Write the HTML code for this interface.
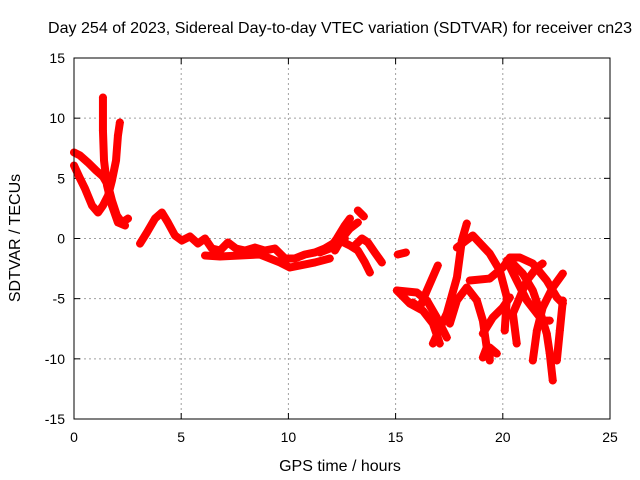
<!DOCTYPE html>
<html><head><meta charset="utf-8"><style>
body{margin:0;background:#fff}
svg{display:block;font-family:"Liberation Sans",sans-serif}
</style></head><body>
<svg id="chart" width="640" height="480" xmlns="http://www.w3.org/2000/svg">
<rect width="640" height="480" fill="#fff"/>
<text x="340" y="33" font-size="16" text-anchor="middle" textLength="584" lengthAdjust="spacingAndGlyphs">Day 254 of 2023, Sidereal Day-to-day VTEC variation (SDTVAR) for receiver cn23</text>
<text x="340" y="471" font-size="16" text-anchor="middle">GPS time / hours</text>
<text transform="translate(20,238) rotate(-90)" font-size="16" text-anchor="middle">SDTVAR / TECUs</text>
<g id="grid"></g><g id="ticks"></g><g id="marks"></g>
<rect x="74" y="58" width="536" height="361" fill="none" stroke="#000" stroke-width="1"/>
</svg>
<script>
const xTicks=[0,5,10,15,20,25];
const yTicks=[-15,-10,-5,0,5,10,15];
const tracksT=[
[0,0.28,0.65,1.03,1.35,1.59,1.77,2.0,2.24,2.52],
[0,0.28,0.51,0.84,1.12,1.35,1.59,1.77,1.96,2.05,2.14],
[1.35,1.35,1.40,1.54,1.77,2.05,2.38],
[3.08,3.40,3.78,4.10,4.38,4.71,5.03,5.41,5.78,6.11,6.43,6.81,7.18,7.55,7.97,8.44,8.90,9.37,9.84,10.30,10.77,11.24,11.70,12.17,12.63],
[6.11,6.81,7.74,8.67,9.60,10.07,10.54,11.24,11.93],
[11.47,11.93,12.26,12.63,12.87],
[12.17,12.49,12.87,13.24],
[12.40,12.87,13.24,13.57,13.80],
[13.10,13.43,13.71,14.03,14.36],
[13.24,13.52],
[15.10,15.48],
[15.06,15.66,16.27,16.74,17.06],
[15.06,15.99,16.46,16.92,17.39],
[16.97,16.46,16.13,15.80],
[16.74,17.39,17.86,18.09,18.32],
[17.86,18.60,19.39,19.86,20.19,20.09],
[18.46,19.39,20.0,20.33,20.79,21.40,22.05,22.52,22.80],
[17.53,17.86,18.32,18.79,19.07,19.25,19.07],
[19.07,19.53,20.0,20.33],
[20.65,20.47,20.79,21.12,21.59,21.86],
[20.19,20.65,21.12,21.59,21.86,22.19],
[21.40,21.59,21.86,22.33,22.80],
[22.33,22.19,22.05,21.72,21.40,20.93,20.47],
[22.52,22.66,22.80],
[19.39,19.39,19.72]
];
const tracksV=[
[7.15,6.9,6.32,5.65,5.15,4.41,3.16,1.91,1.33,1.66],
[6.07,4.99,4.16,2.74,2.16,2.74,3.57,4.82,6.48,8.56,9.64],
[11.72,8.98,6.48,4.41,2.74,1.33,1.08],
[-0.42,0.50,1.66,2.16,1.33,0.25,-0.17,0.17,-0.42,0,-0.83,-1.0,-0.33,-0.83,-1.0,-0.75,-1.0,-0.83,-1.66,-1.66,-1.33,-1.16,-0.83,-0.33,0],
[-1.41,-1.50,-1.41,-1.33,-1.99,-2.41,-2.24,-1.99,-1.66],
[-1.16,-0.83,0,1.08,1.66],
[-1.0,0,0.83,1.33],
[-0.17,-0.58,-1.0,-1.99,-2.83],
[-0.58,0,-0.33,-1.16,-1.99],
[2.33,1.83],
[-1.33,-1.16],
[-4.32,-5.40,-5.99,-7.07,-8.73],
[-4.32,-4.49,-5.15,-6.57,-8.23],
[-2.24,-4.32,-5.74,-5.32],
[-8.73,-6.23,-3.24,-0.17,1.25],
[-0.75,0.25,-1.25,-2.66,-4.90,-7.65],
[-3.49,-3.33,-2.41,-1.58,-1.58,-2.08,-3.49,-4.90,-5.40],
[-7.07,-5.15,-4.07,-5.15,-6.82,-9.06,-9.89],
[-7.90,-6.57,-5.74,-4.90],
[-8.73,-6.23,-4.90,-3.49,-2.41,-2.08],
[-1.83,-3.49,-5.15,-6.23,-6.82,-6.82],
[-10.14,-7.65,-5.74,-4.07,-2.91],
[-11.80,-9.56,-7.90,-5.99,-4.32,-2.91,-2.08],
[-10.14,-7.65,-5.15],
[-10.14,-9.06,-9.56]
];
const L=74,R=610,T=58,B=419;
const X=t=>L+(t-0)/(25-0)*(R-L);
const Y=v=>B-(v+15)/30*(B-T);
const NS="http://www.w3.org/2000/svg";
function mk(tag,parent,attrs){const e=document.createElementNS(NS,tag);for(const k in attrs)e.setAttribute(k,attrs[k]);parent.appendChild(e);return e;}
const grid=document.getElementById('grid'),ticks=document.getElementById('ticks'),marks=document.getElementById('marks');
xTicks.forEach(t=>{const x=X(t);
 if(t>0&&t<25){const g=mk('line',grid,{x1:x,x2:x,y1:T,y2:B,stroke:'#a0a0a0','stroke-dasharray':'2,3'});
 
 }
 mk('line',ticks,{x1:x,x2:x,y1:B,y2:B-6,stroke:'#000'});mk('line',ticks,{x1:x,x2:x,y1:T,y2:T+6,stroke:'#000'});
 const tx=mk('text',ticks,{x:x,y:B+23,'font-size':14,'text-anchor':'middle'});tx.textContent=t;
 
 
});
yTicks.forEach(v=>{const y=Y(v);
 if(v>-15&&v<15){const g=mk('line',grid,{x1:L,x2:R,y1:y,y2:y,stroke:'#a0a0a0','stroke-dasharray':'2,3'});
 
 }
 mk('line',ticks,{x1:L,x2:L+6,y1:y,y2:y,stroke:'#000'});mk('line',ticks,{x1:R,x2:R-6,y1:y,y2:y,stroke:'#000'});
 const tx=mk('text',ticks,{x:L-9,y:y+5,'font-size':14,'text-anchor':'end'});tx.textContent=v;
 
 
});
tracksT.forEach((ts,i)=>{const vs=tracksV[i];
 const pts=ts.map((t,j)=>X(t)+','+Y(vs[j])).join(' ');
 const pl=mk('polyline',marks,{points:pts,fill:'none',stroke:'#ff0000','stroke-width':8,'stroke-linejoin':'round','stroke-linecap':'round'});
 
 
 ts.forEach((t,j)=>{const x=X(t),y=Y(vs[j]);
  const p=mk('path',marks,{d:`M${x-4},${y}H${x+4}M${x},${y-4}V${y+4}`,stroke:'#ff0000','stroke-width':1});
  
  
 });
});
</script>
</body></html>
